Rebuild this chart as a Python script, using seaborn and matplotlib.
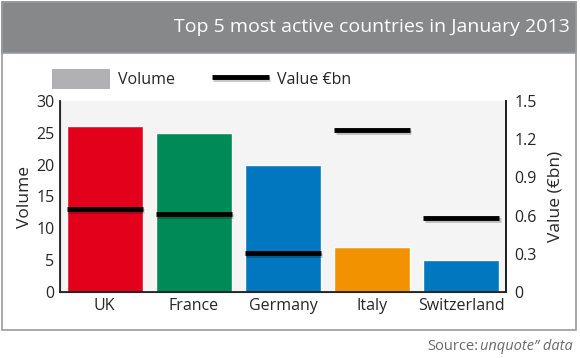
import numpy as np
import seaborn as sns
import matplotlib.pyplot as plt
import matplotlib.patheffects as pe
from matplotlib.patches import Rectangle, Patch
from matplotlib.lines import Line2D
import pandas as pd

# data
countries = ["UK", "France", "Germany", "Italy", "Switzerland"]
volume = [26, 25, 20, 7, 5]
value_bn = [0.65, 0.61, 0.31, 1.27, 0.585]
bar_colors = ["#e2001a", "#008a57", "#0077be", "#f39200", "#0077be"]
right_ticks = [0, 0.3, 0.6, 0.9, 1.2, 1.5]
right_labels = ["0", "0.3", "0.6", "0.9", "1.2", "1.5"]

sns.set_style("white")
plt.rcParams['font.family'] = ['Open Sans', 'DejaVu Sans']

df = pd.DataFrame({"Country": countries, "Volume": volume, "Value": value_bn})

fig = plt.figure(figsize=(5.8, 3.58), dpi=100, facecolor="white")

# frame and header band
fig.patches.append(Rectangle((2 / 580, 1 - 330 / 358), 574 / 580, 328 / 358,
                             transform=fig.transFigure, facecolor="none",
                             edgecolor="#9a9a9a", linewidth=1.2, zorder=-2))
fig.patches.append(Rectangle((2 / 580, 1 - 53 / 358), 574 / 580, 51 / 358,
                             transform=fig.transFigure, facecolor="#87888a",
                             edgecolor="#9a9a9a", linewidth=1.2, zorder=-1))
fig.text(570 / 580, 1 - 27 / 358, "Top 5 most active countries in January 2013",
         ha="right", va="center", color="white", fontsize=14)

ax = fig.add_axes([60 / 580, 1 - 292 / 358, 446 / 580, 191 / 358])
ax.set_facecolor("#f4f4f4")
sns.barplot(data=df, x="Country", y="Volume", hue="Country", palette=bar_colors,
            width=0.85, saturation=1, legend=False, ax=ax)
ax.set_ylim(0, 30)
ax.set_yticks([0, 5, 10, 15, 20, 25, 30])
ax.set_xlim(-0.5, len(countries) - 0.5)
ax.set_xlabel("")
ax.set_ylabel("Volume", fontsize=12.5, labelpad=2)
ax.tick_params(axis="both", labelsize=11.5, length=0, pad=4)
ax.set_xticks(np.arange(len(countries)) + 0.5, minor=True)
ax.tick_params(axis="x", which="minor", direction="in", length=4, width=1, color="#333333")
for side in ["left", "bottom", "right"]:
    ax.spines[side].set_color("#222222")
    ax.spines[side].set_linewidth(1.3)
ax.spines["top"].set_visible(False)

shadow = [pe.SimpleLineShadow(offset=(1, -1.5), alpha=0.22), pe.Normal()]

ax2 = ax.twinx()
ax2.set_ylim(0, 1.5)
xs = np.arange(len(countries))
ax2.hlines(value_bn, xs - 0.425, xs + 0.425, color="black", linewidth=3.5,
           capstyle="butt", path_effects=shadow)
ax2.set_yticks(right_ticks)
ax2.set_yticklabels(right_labels)
ax2.tick_params(axis="y", labelsize=11.5, length=0, pad=6)
ax2.set_ylabel("Value (€bn)", fontsize=12.5, labelpad=8)
ax2.spines["top"].set_visible(False)
ax2.spines["right"].set_color("#222222")
ax2.spines["right"].set_linewidth(1.3)

# legend
handles = [Patch(facecolor="#b1b1b3", edgecolor="none", label="Volume"),
           Line2D([], [], color="black", linewidth=3.5, solid_capstyle="butt",
                  label="Value €bn", path_effects=shadow)]
fig.legend(handles=handles, loc="center left", bbox_to_anchor=(38 / 580, 1 - 79 / 358),
           ncol=2, frameon=False, fontsize=11.5, handlelength=3.6, handleheight=1.5,
           columnspacing=2.3, handletextpad=0.5)

# source note
src = fig.text(573 / 580, 1 - 347 / 358, "unquote” data", ha="right", va="center",
               color="#6a6a6a", fontsize=10.5, style="italic")
fig.canvas.draw()
left = fig.transFigure.inverted().transform(
    (src.get_window_extent().x0, 0))[0]
fig.text(left - 0.004, 1 - 347 / 358, "Source:", ha="right", va="center",
         color="#6a6a6a", fontsize=10.5)

fig.savefig("out.png", dpi=100)
